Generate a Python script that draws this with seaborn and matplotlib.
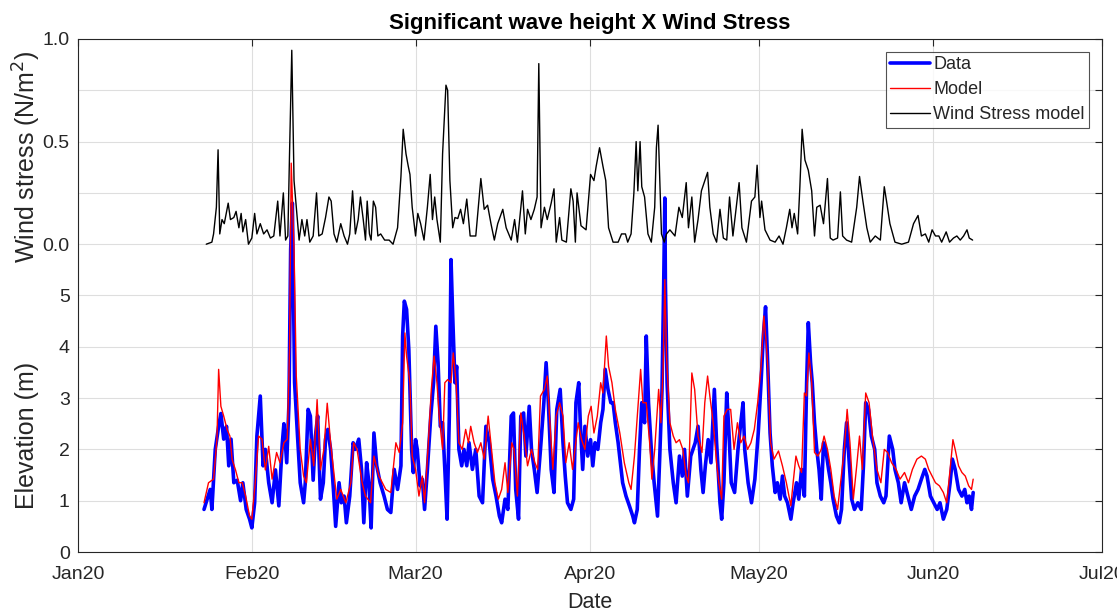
import matplotlib
matplotlib.use('Agg')
import matplotlib.pyplot as plt
import matplotlib.dates as mdates
import seaborn as sns
import numpy as np
import pandas as pd

# Time axis: days since 2020-01-01
data_days = [22.4, 23.5, 23.8, 24.4, 25.0, 25.4, 25.9, 26.4, 26.8, 27.2, 27.7, 28.3, 28.9, 29.3, 29.9,
             30.5, 30.9, 31.4, 31.8, 32.4, 32.9, 33.3, 33.9, 34.5, 35.1, 35.7, 36.3, 36.6, 37.1, 37.5,
             37.8, 38.1, 38.5, 39.0, 39.5, 40.1, 40.4, 40.9, 41.3, 41.8, 42.2, 42.6, 43.1, 43.6, 44.0,
             44.4, 44.9, 45.4, 45.8, 46.4, 46.8, 47.3, 47.7, 48.3, 48.9, 49.3, 49.9, 50.4, 50.8, 51.3,
             51.7, 52.1, 52.6, 53.1, 53.7, 54.4, 55.0, 55.6, 56.2, 56.8, 57.4, 57.7, 58.0, 58.4,
             58.8, 59.3, 59.6, 60.0, 60.3, 60.8, 61.2, 61.6, 62.1, 62.7, 63.2, 63.6, 64.0, 64.4, 64.8,
             65.2, 65.6, 66.0, 66.3, 66.6, 67.0, 67.3, 67.7, 68.2, 68.6, 69.1, 69.5, 70.1, 70.7, 71.3,
             71.9, 72.5, 73.1, 73.7, 74.3, 74.9, 75.3, 75.9, 76.4, 77.0, 77.4, 77.8, 78.3, 78.7, 79.2,
             79.6, 80.2, 80.6, 81.1, 81.6, 82.2, 82.8, 83.2, 83.6, 84.1, 84.6, 85.1, 85.7, 86.2, 86.6,
             87.0, 87.6, 88.1, 88.5, 89.0, 89.3, 89.7, 90.1, 90.6, 91.1, 91.5, 91.9, 92.4, 92.9, 93.3,
             93.7, 94.2, 94.7, 95.1, 95.5, 96.0, 96.4, 96.8, 97.4, 98.0, 98.6, 98.9, 99.4, 99.8, 100.2,
             100.7, 101.0, 101.4, 101.9, 102.4, 103.0, 103.4, 103.8, 104.1, 104.3, 104.4, 104.7, 105.2,
             105.8, 106.3, 106.9, 107.4, 107.8, 108.3, 108.9, 109.3, 109.7, 110.2, 110.7, 111.1, 111.5,
             112.0, 112.5, 113.1, 113.5, 114.1, 114.4, 114.8, 115.3, 115.7, 116.1, 116.7, 117.3, 117.8,
             118.2, 118.5, 119.1, 119.7, 120.3, 120.9, 121.4, 121.8, 122.2, 122.6, 123.0, 123.4, 123.9,
             124.3, 124.8, 125.2, 125.6, 126.1, 126.7, 127.1, 127.7, 128.1, 128.6, 129.1, 129.5, 129.8,
             130.2, 130.5, 130.9, 131.3, 131.7, 132.1, 132.5, 132.9, 133.4, 133.8, 134.2, 134.8, 135.3,
             135.7, 136.2, 136.6, 137.0, 137.5, 138.0, 138.6, 139.2, 139.6, 140.0, 140.5, 141.0, 141.6,
             142.0, 142.6, 143.2, 143.6, 144.2, 144.8, 145.2, 145.8, 146.3, 146.9, 147.5, 148.1, 148.7,
             149.3, 149.9, 150.5, 150.9, 151.5, 152.1, 152.7, 153.2, 153.8, 154.4, 155.0, 155.4, 155.9,
             156.5, 157.1, 157.6, 158.0, 158.4, 158.8, 159.1]
data_hs = [0.83, 1.22, 0.83, 2.0, 2.45, 2.7, 2.2, 2.45, 1.68, 2.2, 1.35, 1.4, 1.0, 1.35, 0.83,
           0.64, 0.47, 0.96, 2.26, 3.04, 1.68, 2.0, 1.35, 0.96, 1.6, 0.9, 2.1, 2.5, 1.74, 2.9,
           5.9, 6.8, 3.3, 2.3, 1.35, 0.96, 1.35, 2.78, 2.65, 1.4, 2.26, 2.65, 1.03, 1.35, 2.2,
           2.39, 2.0, 1.22, 0.5, 1.35, 0.96, 1.09, 0.57, 1.09, 2.13, 2.0, 2.2, 1.6, 0.57, 1.74,
           1.35, 0.47, 2.32, 1.68, 1.35, 1.09, 0.83, 0.77, 1.61, 1.22, 1.68, 4.21, 4.89, 4.73,
           3.95, 2.0, 1.55, 2.19, 2.0, 1.29, 1.42, 0.83, 1.61, 2.65, 3.3, 4.4, 3.69, 2.45, 2.52,
           1.61, 0.64, 2.65, 5.7, 4.6, 3.3, 3.62, 2.0, 1.68, 2.0, 1.68, 2.13, 1.61, 2.0, 1.09,
           0.96, 2.45, 2.13, 1.42, 1.09, 0.7, 0.57, 1.03, 0.83, 2.65, 2.71, 1.22, 0.64, 2.65, 2.71,
           1.87, 2.84, 2.0, 1.61, 1.16, 2.0, 2.91, 3.69, 2.91, 1.61, 1.16, 2.78, 3.17, 2.13, 1.48,
           0.96, 0.83, 1.03, 2.91, 3.3, 2.45, 1.61, 2.45, 1.87, 2.19, 1.68, 2.13, 2.0, 2.52, 2.78,
           3.56, 3.17, 2.91, 2.91, 2.52, 2.13, 1.74, 1.35, 1.09, 0.9, 0.7, 0.57, 0.83, 2.0, 2.91,
           2.52, 4.21, 2.91, 2.0, 1.35, 0.7, 1.87, 3.17, 5.25, 6.9, 5.25, 3.3, 2.0,
           1.35, 0.96, 1.87, 1.48, 2.0, 1.09, 1.87, 2.0, 2.13, 2.45, 1.61, 1.16, 1.68,
           2.19, 1.74, 3.17, 2.13, 0.96, 0.64, 1.35, 3.1, 2.32, 1.35, 1.16, 2.0, 2.52,
           2.91, 2.0, 1.35, 0.96, 1.42, 2.32, 3.3, 4.21, 4.78, 3.62, 2.32, 1.68, 1.16,
           1.35, 1.03, 1.48, 1.09, 0.96, 0.64, 0.96, 1.35, 1.03, 1.61, 1.09, 3.3, 4.47,
           3.69, 3.3, 2.52, 2.0, 1.61, 1.03, 2.13, 2.0, 1.61, 1.35, 1.03, 0.7, 0.57,
           0.83, 2.0, 2.52, 1.87, 1.03, 0.83, 0.96, 0.83, 1.68, 2.91, 2.78, 2.26, 2.0,
           1.35, 1.09, 0.96, 1.09, 2.26, 2.0, 1.61, 1.35, 0.96, 1.35, 1.09, 0.83, 1.09,
           1.22, 1.42, 1.61, 1.48, 1.09, 0.96, 0.83, 0.96, 0.64, 0.83, 1.35, 1.81, 1.61,
           1.22, 1.09, 1.22, 0.96, 1.09, 0.83, 1.16]

model_days = [22.4, 23.2, 24.1, 24.7, 25.0, 25.4, 25.9, 26.5, 27.0, 27.4, 28.0, 28.6, 29.2, 29.8, 30.5,
              30.9, 31.5, 32.1, 32.7, 33.3, 33.9, 34.5, 35.3, 35.9, 36.6, 37.2, 37.6, 37.9, 38.4, 38.8,
              39.5, 40.1, 40.6, 41.3, 41.9, 42.5, 43.1, 43.7, 44.3, 44.9, 46.0, 46.7, 47.6, 48.5, 49.0,
              49.6, 50.5, 51.1, 52.0, 52.6, 53.5, 54.7, 55.6, 56.5, 57.1, 57.7, 58.1, 58.4, 59.0, 59.4,
              60.0, 60.6, 61.2, 61.6, 62.2, 62.8, 63.3, 63.8, 64.2, 64.8, 65.2, 65.7, 66.3, 66.7, 67.2,
              67.7, 68.3, 68.9, 69.4, 69.8, 70.4, 71.0, 71.6, 72.2, 72.9, 73.5, 74.1, 74.7, 75.3, 75.9,
              76.4, 77.1, 77.5, 78.1, 78.7, 79.3, 79.9, 80.6, 81.2, 81.7, 82.2, 82.9, 83.4, 83.8, 84.4,
              85.0, 85.6, 86.2, 86.7, 87.3, 87.9, 88.9, 89.5, 90.1, 90.7, 91.2, 91.7, 92.3, 92.9, 93.3,
              93.9, 94.3, 94.9, 95.5, 96.3, 97.1, 97.9, 98.3, 98.9, 99.5, 100.0, 100.4, 101.0, 101.6,
              102.0, 102.5, 103.2, 103.6, 104.0, 104.3, 104.6, 105.2, 105.8, 106.3, 106.9, 107.5, 108.1,
              108.5, 109.1, 109.6, 110.2, 110.9, 111.4, 111.9, 112.3, 112.9, 113.5, 113.9, 114.4, 114.8,
              115.4, 116.0, 116.6, 117.2, 117.8, 118.4, 119.0, 119.6, 120.2, 120.8, 121.4, 121.9, 122.3,
              122.6, 123.1, 123.7, 124.5, 125.2, 125.9, 126.7, 127.1, 127.6, 128.1, 128.6, 129.1, 129.5,
              129.9, 130.4, 130.9, 131.5, 132.1, 132.6, 133.2, 133.8, 134.4, 135.0, 135.6, 136.2, 136.7,
              137.2, 137.8, 138.4, 138.9, 139.4, 140.0, 140.6, 141.2, 142.0, 142.7, 143.3, 143.9, 144.6,
              145.4, 146.1, 146.9, 147.6, 148.3, 149.1, 149.9, 150.6, 151.2, 151.8, 152.4, 153.1, 153.8,
              154.4, 155.0, 155.5, 155.9, 156.5, 157.1, 157.7, 158.3, 158.8, 159.1]
model_hs = [0.96, 1.35, 1.42, 2.2, 3.56, 2.84, 2.65, 2.39, 2.26, 1.8, 1.6, 1.35, 1.35, 1.09, 0.7,
            0.64, 1.35, 2.26, 2.2, 1.6, 2.06, 1.42, 1.94, 1.74, 2.13, 2.2, 3.95, 7.58, 5.9, 3.43,
            2.0, 1.48, 1.35, 2.2, 1.68, 2.97, 1.6, 2.0, 2.9, 2.13, 1.03, 1.22, 0.96, 1.35, 2.13,
            2.0, 1.35, 1.09, 0.96, 1.87, 1.48, 1.22, 1.16, 2.13, 1.94, 2.52, 4.27, 3.82, 3.3, 1.87,
            1.61, 1.09, 1.48, 0.96, 2.0, 3.17, 3.82, 3.3, 2.65, 2.0, 3.3, 3.36, 3.3, 3.88, 3.3,
            2.13, 2.0, 2.39, 2.13, 2.45, 2.13, 1.94, 2.13, 1.81, 2.65, 2.0, 1.35, 1.03, 1.22, 1.74,
            1.16, 2.13, 2.0, 1.09, 2.71, 2.26, 1.68, 2.0, 1.74, 1.61, 3.04, 3.17, 3.43, 2.65, 1.61,
            2.65, 2.91, 2.65, 1.74, 2.13, 1.61, 2.52, 2.19, 2.0, 2.65, 2.84, 2.32, 2.65, 3.3, 3.1,
            4.21, 3.62, 3.3, 2.78, 2.32, 1.74, 1.35, 1.22, 1.87, 2.78, 3.56, 2.91, 2.91, 2.13,
            1.42, 2.0, 3.17, 2.52, 3.62, 5.31, 3.82, 2.52, 2.26, 2.13, 2.19, 2.0, 1.48,
            1.35, 3.49, 3.17, 2.26, 1.94, 2.91, 3.43, 3.04, 2.52, 1.74, 1.35, 1.03, 2.65,
            2.78, 2.78, 2.0, 2.52, 2.13, 2.26, 2.0, 2.13, 2.39, 2.91, 3.62, 4.6, 4.1,
            3.62, 2.13, 1.81, 1.97, 1.68, 1.35, 0.9, 1.35, 1.87, 1.68, 1.55, 3.1, 3.04,
            3.88, 3.3, 1.94, 1.87, 2.0, 2.26, 2.0, 1.61, 1.09, 0.83, 1.42, 2.0, 2.78,
            2.13, 1.03, 1.68, 2.26, 1.61, 3.1, 2.91, 2.26, 1.61, 1.35, 2.0, 1.94, 1.74,
            1.61, 1.42, 1.55, 1.35, 1.61, 1.81, 1.87, 1.81, 1.61, 1.48, 1.35, 1.29, 1.16,
            0.96, 1.61, 2.19, 2.0, 1.68, 1.55, 1.48, 1.29, 1.22, 1.42]

wind_days = [22.8, 23.8, 24.1, 24.6, 24.9, 25.2, 25.6, 26.0, 26.7, 27.1, 27.7, 28.1, 28.6, 29.0, 29.3,
             29.8, 30.3, 30.9, 31.4, 31.8, 32.4, 33.0, 33.6, 34.2, 34.8, 35.5, 35.9, 36.5, 36.9, 37.3,
             37.6, 38.0, 38.4, 38.8, 39.3, 39.8, 40.3, 40.7, 41.2, 41.8, 42.4, 42.8, 43.4, 44.0, 44.6,
             45.0, 45.5, 46.0, 46.7, 47.3, 47.9, 48.3, 48.8, 49.3, 49.8, 50.2, 50.7, 51.1, 51.4, 51.8,
             52.1, 52.5, 52.9, 53.3, 53.8, 54.5, 55.3, 56.0, 56.8, 57.4, 57.8, 58.3, 58.7, 59.0, 59.4,
             60.0, 60.4, 60.9, 61.5, 62.1, 62.6, 63.0, 63.4, 63.8, 64.4, 64.8, 65.4, 65.7, 66.1, 66.6,
             67.0, 67.5, 68.0, 68.5, 69.1, 69.7, 70.7, 71.6, 72.2, 72.8, 73.4, 74.0, 74.6, 75.5, 76.1,
             77.0, 77.6, 78.1, 79.0, 79.5, 79.9, 80.5, 81.1, 81.6, 81.9, 82.3, 82.9, 83.4, 84.1, 84.6,
             85.0, 85.6, 86.0, 86.8, 87.6, 88.0, 88.4, 88.7, 89.4, 90.3, 91.1, 91.7, 92.1, 92.7, 93.3,
             93.8, 94.3, 95.1, 96.0, 96.6, 97.3, 97.7, 98.3, 98.8, 99.2, 99.5, 99.9, 100.2, 100.7, 101.3,
             101.9, 102.5, 102.8, 103.1, 103.4, 103.7, 104.2, 104.6, 105.2, 106.1, 106.8, 107.4, 108.1,
             108.5, 109.1, 109.6, 110.2, 110.8, 111.4, 111.9, 112.3, 112.9, 113.5, 114.1, 114.7, 115.3,
             115.8, 116.4, 117.0, 117.5, 118.0, 118.8, 119.7, 120.3, 120.7, 121.2, 121.5, 122.1, 123.0,
             123.9, 124.6, 125.3, 125.9, 126.5, 126.9, 127.3, 127.9, 128.3, 128.7, 129.2, 129.8, 130.4,
             130.9, 131.3, 131.9, 132.5, 133.2, 133.7, 134.2, 135.0, 135.5, 135.9, 136.6, 137.5, 138.4,
             138.9, 139.5, 140.2, 140.8, 141.7, 142.6, 143.3, 143.7, 144.3, 145.2, 146.4, 147.6, 148.5,
             149.3, 149.9, 150.6, 151.2, 151.8, 152.4, 153.0, 153.5, 154.3, 154.9, 155.6, 156.2, 156.8,
             157.4, 158.0, 158.4, 159.0]
wind_stress = [0.0, 0.01, 0.05, 0.18, 0.46, 0.05, 0.12, 0.10, 0.2, 0.12, 0.13, 0.16, 0.08, 0.15, 0.06,
               0.12, 0.0, 0.03, 0.15, 0.05, 0.10, 0.05, 0.07, 0.03, 0.04, 0.21, 0.04, 0.25, 0.02, 0.04,
               0.44, 0.945, 0.31, 0.18, 0.02, 0.12, 0.04, 0.12, 0.01, 0.04, 0.25, 0.04, 0.05, 0.13, 0.23,
               0.21, 0.05, 0.01, 0.10, 0.04, 0.0, 0.05, 0.26, 0.05, 0.12, 0.23, 0.12, 0.02, 0.21, 0.05,
               0.02, 0.21, 0.18, 0.04, 0.05, 0.02, 0.02, 0.0, 0.08, 0.33, 0.56, 0.44, 0.38, 0.34, 0.18,
               0.04, 0.15, 0.1, 0.02, 0.18, 0.34, 0.12, 0.23, 0.12, 0.01, 0.44, 0.775, 0.75, 0.31, 0.08,
               0.13, 0.125, 0.17, 0.10, 0.22, 0.04, 0.04, 0.32, 0.17, 0.19, 0.10, 0.02, 0.10, 0.17, 0.08,
               0.02, 0.12, 0.01, 0.26, 0.05, 0.17, 0.12, 0.17, 0.23, 0.88, 0.08, 0.18, 0.12, 0.2, 0.27,
               0.01, 0.13, 0.02, 0.01, 0.27, 0.21, 0.01, 0.25, 0.09, 0.07, 0.34, 0.31, 0.38, 0.47, 0.38,
               0.31, 0.08, 0.01, 0.01, 0.05, 0.05, 0.01, 0.05, 0.25, 0.5, 0.26, 0.5, 0.28, 0.23, 0.05,
               0.01, 0.18, 0.47, 0.58, 0.31, 0.05, 0.01, 0.05, 0.07, 0.04, 0.18, 0.13, 0.3,
               0.08, 0.23, 0.01, 0.12, 0.26, 0.31, 0.35, 0.18, 0.05, 0.01, 0.17, 0.03, 0.02,
               0.23, 0.04, 0.18, 0.3, 0.08, 0.01, 0.21, 0.23, 0.385, 0.13, 0.21, 0.07, 0.02,
               0.01, 0.04, 0.0, 0.08, 0.17, 0.08, 0.15, 0.05, 0.28, 0.56, 0.41, 0.36, 0.26,
               0.04, 0.18, 0.19, 0.1, 0.32, 0.03, 0.02, 0.03, 0.255, 0.04, 0.02, 0.01, 0.18,
               0.33, 0.21, 0.08, 0.01, 0.04, 0.02, 0.28, 0.21, 0.1, 0.01, 0.0, 0.01, 0.1,
               0.14, 0.04, 0.05, 0.01, 0.07, 0.04, 0.04, 0.01, 0.06, 0.01, 0.03, 0.04, 0.02,
               0.04, 0.07, 0.03, 0.02]

# wind stress is drawn on the upper part of the same axis: 0 N/m2 -> 6, 1 N/m2 -> 10
wind_offset = 6
wind_scale = 4

start = pd.Timestamp('2020-01-01')
month_ticks = pd.date_range('2020-01-01', '2020-07-01', freq='MS')
elev_ticks = [0, 1, 2, 3, 4, 5, 6, 7, 8, 9, 10]
elev_labels = ['0', '1', '2', '3', '4', '5', '0.0', '', '0.5', '', '1.0']


def to_dates(days):
    return start + pd.to_timedelta(np.array(days), unit='D')


sns.set_theme(style='white')
plt.rcParams['font.family'] = ['Liberation Sans', 'DejaVu Sans']
txt = '#262626'

fig = plt.figure(figsize=(11.17, 6.13), dpi=100)
ax = fig.add_axes([0.0698, 0.0995, 0.9168, 0.8369])

sns.lineplot(x=to_dates(data_days), y=data_hs, ax=ax, color='#0000ff', lw=2.6,
             label='Data', estimator=None, sort=False)
sns.lineplot(x=to_dates(model_days), y=model_hs, ax=ax, color='#ff0000', lw=1.0,
             label='Model', estimator=None, sort=False)
sns.lineplot(x=to_dates(wind_days), y=wind_offset + wind_scale * np.array(wind_stress), ax=ax,
             color='black', lw=1.0, label='Wind Stress model', estimator=None, sort=False)

ax.set_xlim(month_ticks[0], month_ticks[-1])
ax.set_ylim(0, 10)
ax.set_xticks(month_ticks)
ax.xaxis.set_major_formatter(mdates.DateFormatter('%b%y'))
ax.set_yticks(elev_ticks)
ax.set_yticklabels(elev_labels)
ax.grid(True, color='#dedede', lw=0.8)
ax.tick_params(direction='in', top=True, right=True, length=5, width=0.8, colors=txt,
               labelsize=14, pad=6)
ax.tick_params(axis='x', pad=10)
for s in ax.spines.values():
    s.set_visible(True)
    s.set_color('#262626')
    s.set_linewidth(0.8)

ax.set_xlabel('')
ax.set_ylabel('')
ax.set_title('Significant wave height X Wind Stress', fontsize=16, fontweight='bold',
             color='black', pad=7)
fig.text(0.528, 0.017, 'Date', ha='center', va='center', fontsize=15.5, color=txt)
fig.text(0.024, 0.29, 'Elevation (m)', ha='center', va='center', rotation=90,
         fontsize=18, color=txt)
fig.text(0.024, 0.745, 'Wind stress (N/m$^2$)', ha='center', va='center', rotation=90,
         fontsize=18, color=txt)

leg = ax.legend(loc='upper right', fontsize=13, frameon=True, fancybox=False,
                handlelength=2.2, handletextpad=0.2, labelspacing=0.45,
                borderpad=0.25, borderaxespad=0.7)
leg.get_frame().set_edgecolor('#262626')
leg.get_frame().set_linewidth(0.8)
for t in leg.get_texts():
    t.set_color(txt)

plt.savefig('out.png', dpi=100)
